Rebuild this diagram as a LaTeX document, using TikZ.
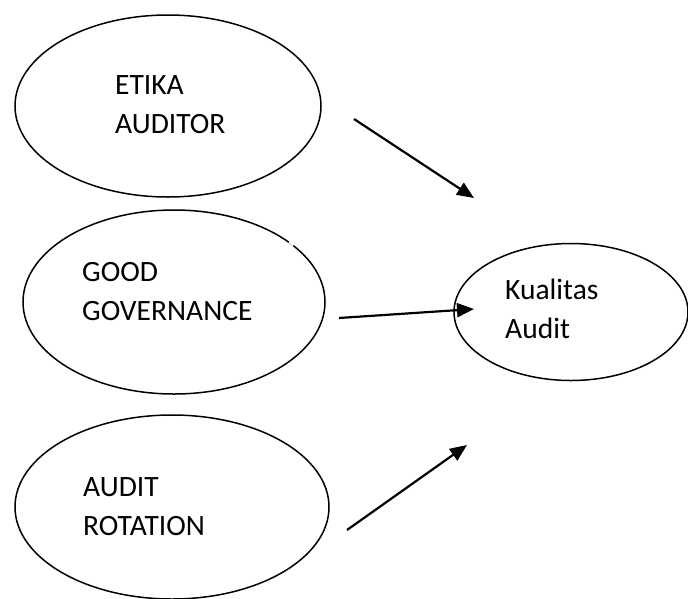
\documentclass[tikz,border=0pt]{standalone}
\usepackage{fontspec}
\setmainfont{Carlito}
\usetikzlibrary{shapes.geometric,arrows.meta}
\begin{document}
\begin{tikzpicture}[x=1pt,y=-1pt,
  oval/.style={draw,ellipse,line width=1.5pt,inner sep=0pt},
  lbl/.style={anchor=base west,align=left,inner sep=0pt,font=\fontsize{29.5}{39}\selectfont},
  link/.style={line width=2.2pt,-{Triangle[length=17pt,width=14pt]}}]
\useasboundingbox (0,0) rectangle (688,598);
\node[oval,minimum width=306pt,minimum height=182pt] (etika) at (168,106) {};
\node[oval,minimum width=302pt,minimum height=184pt] (good) at (174,302) {};
\node[oval,minimum width=314pt,minimum height=184pt] (rot) at (172,507) {};
\node[oval,minimum width=234pt,minimum height=137pt] (kual) at (571,312) {};
\node[lbl] (tetika) at (115,133) {ETIKA\\AUDITOR};
\node[lbl] (tgood) at (82,320) {GOOD\\GOVERNANCE};
\node[lbl] (trot) at (83,535) {AUDIT\\ROTATION};
\node[lbl] (tkual) at (505,338) {Kualitas\\Audit};
% small break in the outline
\draw[white,line width=3pt] (289.5,241.5) -- (293.5,245);
\coordinate (s1) at (354,119); \coordinate (e1) at (474,198);
\coordinate (s2) at (339,318); \coordinate (e2) at (474,309);
\coordinate (s3) at (347,530); \coordinate (e3) at (467,445);
\draw[link] (s1) -- (e1);
\draw[link] (s2) -- (e2);
\draw[link] (s3) -- (e3);
\end{tikzpicture}
\end{document}
